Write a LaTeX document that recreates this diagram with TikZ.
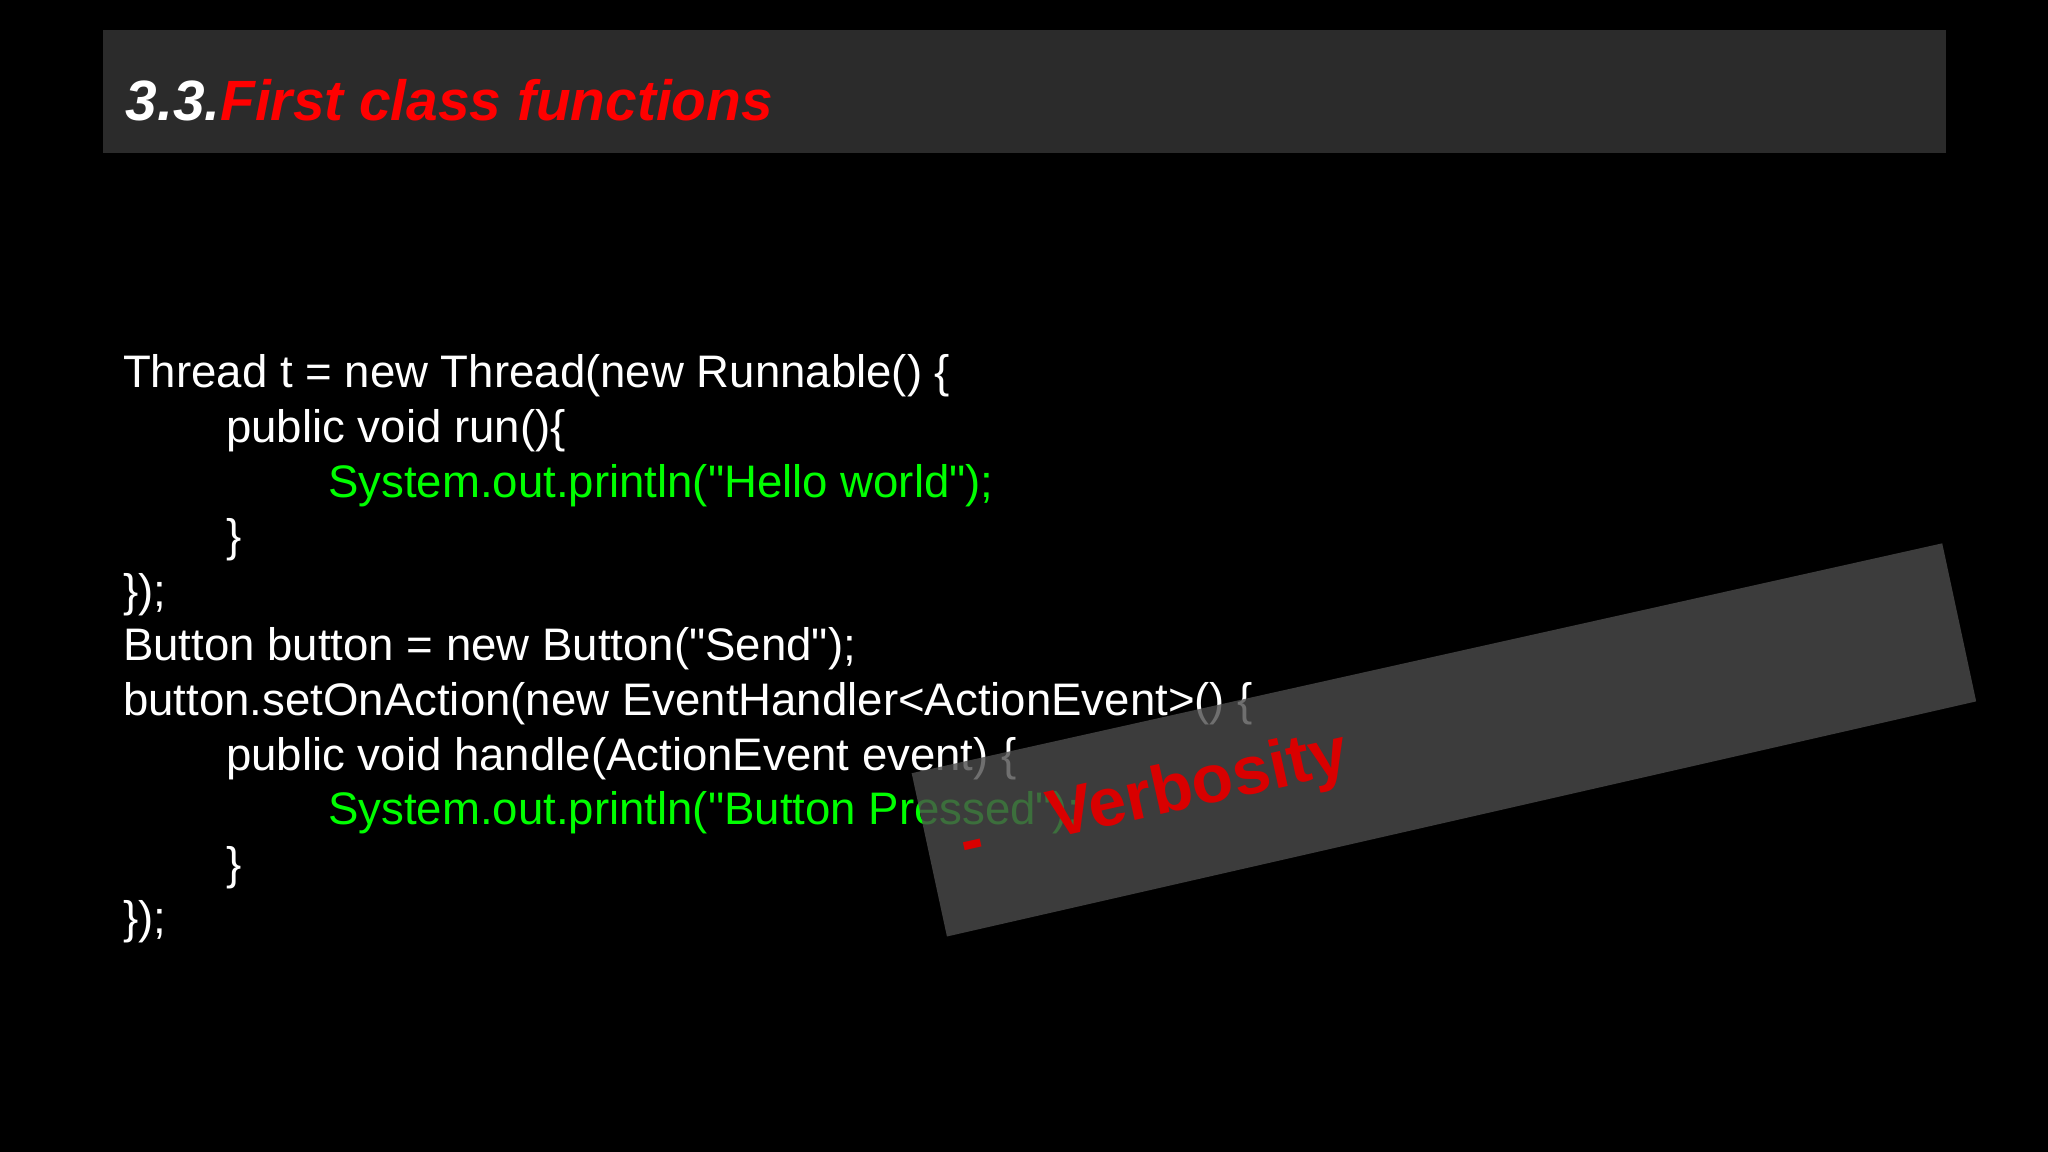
\documentclass[tikz,border=0pt]{standalone}
\usepackage{fontspec}
\setmainfont{Liberation Sans}[Mapping=]
\begin{document}
\begin{tikzpicture}[x=1pt,y=-1pt,
  code/.style={anchor=base west,inner sep=0pt,text=white,font=\fontsize{34.9}{35}\selectfont},
  vb/.style={rotate=12.6,anchor=base west,inner sep=0pt,text=red!85!black,font=\fontsize{52}{52}\selectfont\bfseries}]
\useasboundingbox (0,0) rectangle (1568,882);
\fill[black] (0,0) rectangle (1568,882);
\fill[black!83] (79,23) rectangle (1490,117);
\node[anchor=base west,inner sep=0pt,font=\fontsize{43.5}{44}\selectfont\bfseries\itshape] (title) at (96,92)
  {\textcolor{white}{3.3.}\textcolor{red}{First class functions}};
\def\b{297}\def\d{41.8}
\node[code] (l1) at (94,\b) {Thread t = new Thread(new Runnable() \{};
\node[code] (l2) at (173,\b+\d) {public void run()\{};
\node[code,text=green] (l3) at (251,\b+2*\d) {System.out.println("Hello world");};
\node[code] (l4) at (173,\b+3*\d) {\}};
\node[code] (l5) at (94,\b+4*\d) {\});};
\node[code] (l6) at (94,\b+5*\d) {Button button = new Button("Send");};
\node[code] (l7) at (94,\b+6*\d) {button.setOnAction(new EventHandler<ActionEvent>() \{};
\node[code] (l8) at (173,\b+7*\d) {public void handle(ActionEvent event) \{};
\node[code,text=green] (l9) at (251,\b+8*\d) {System.out.println("Button Pressed");};
\node[code] (l10) at (173,\b+9*\d) {\}};
\node[code] (l11) at (94,\b+10*\d) {\});};
\fill[black!70,fill opacity=0.8] (698,592) -- (1487,416) -- (1513,537) -- (725,717) -- cycle;
\node[vb] (dash) at (739,662) {-};
\node[vb] (verb) at (806,642) {Verbosity};
\end{tikzpicture}
\end{document}
